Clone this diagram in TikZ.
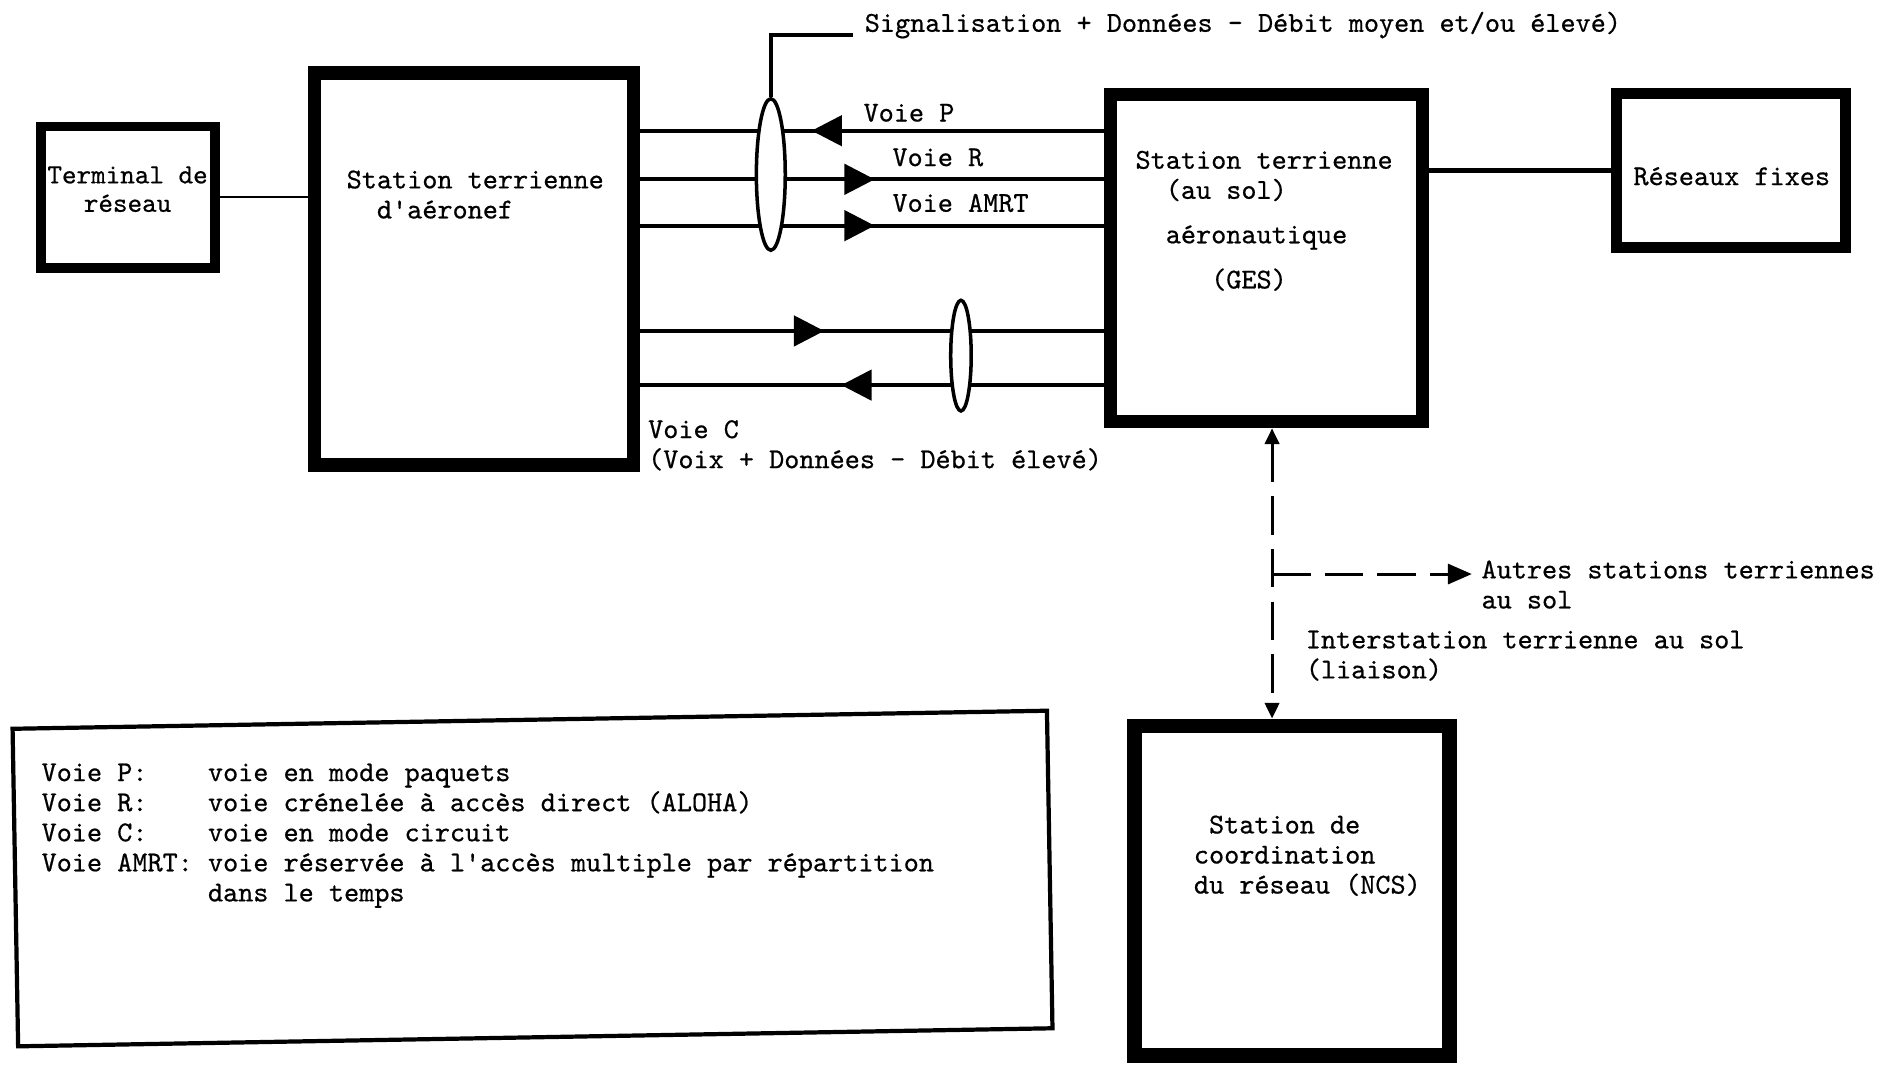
\documentclass[tikz,border=0pt]{standalone}
\usepackage{fontspec}
\setmonofont{lmmono10-regular.otf}[FakeBold=0.6]
\usetikzlibrary{arrows.meta,positioning,shapes.geometric,decorations.markings}

\begin{document}
\begin{tikzpicture}[x=0.012034cm,y=-0.012034cm,
    font=\ttfamily\fontsize{8.2}{8.56}\selectfont,
    box/.style={draw,rectangle,inner sep=0pt},
    txt/.style={inner sep=0pt,anchor=base west,align=left},
    chan/.style={line width=1.1pt},
    midarrow/.style={postaction={decorate,decoration={markings,
        mark=at position #1 with {\arrow{Triangle[length=8.6pt,width=8.6pt]}}}}},
    bundle/.style={draw,ellipse,fill=white,line width=1pt,inner sep=0pt},
    link/.style={line width=0.85pt,dash pattern=on 11pt off 4pt}]
  \useasboundingbox (0,0) rectangle (1568,885);

  % boxes
  \node[box,line width=2.74pt,minimum width=1.739cm,minimum height=1.414cm] (term) at (106.25,163.75) {};
  \node[box,line width=3.77pt,minimum width=3.189cm,minimum height=3.923cm] (acft) at (394,223.5) {};
  \node[box,line width=3.77pt,minimum width=3.123cm,minimum height=3.273cm] (ges) at (1052.25,214.5) {};
  \node[box,line width=3.1pt,minimum width=2.286cm,minimum height=1.534cm] (fixe) at (1438.5,141.75) {};
  \node[box,line width=4.1pt,minimum width=3.153cm,minimum height=3.297cm] (ncs) at (1073.5,740) {};
  \node[box,line width=1.2pt,minimum width=10.349cm,minimum height=3.177cm,rotate=1] (legende) at (442.5,730) {};

  % box texts (base = last line)
  \node[txt,align=center,anchor=base,font=\ttfamily\fontsize{7.9}{8.1}\selectfont] (termtxt) at (106,176) {Terminal de\\réseau};
  \node[txt] (acfttxt) at (287.5,181.5) {Station terrienne\\~~d\textquotesingle aéronef};
  \node[txt] (gestxt) at (943,239.7) {Station terrienne\\~~(au sol)\\[4.1pt]~~aéronautique\\[4.3pt]~~~~~(GES)};
  \node[txt,anchor=base] (fixetxt) at (1439,153.8) {Réseaux fixes};
  \node[txt] (ncstxt) at (991.5,742.5) {~Station de\\coordination\\du réseau (NCS)};

  % simple links
  \draw[line width=0.7pt] (term.east) -- (term.east -| acft.west);
  \draw[line width=1.3pt] (fixe.west) -- (fixe.west -| ges.east);

  % channels
  \draw[chan,midarrow=0.63] (ges.west |- 0,108.6) -- (acft.east |- 0,108.6);
  \draw[chan,midarrow=0.506] (acft.east |- 0,149) -- (ges.west |- 0,149);
  \draw[chan,midarrow=0.506] (acft.east |- 0,187.5) -- (ges.west |- 0,187.5);
  \draw[chan,midarrow=0.397] (acft.east |- 0,275) -- (ges.west |- 0,275);
  \draw[chan,midarrow=0.566] (ges.west |- 0,320) -- (acft.east |- 0,320);

  \node[bundle,minimum width=0.289cm,minimum height=1.516cm] (bund1) at (640.5,145) {};
  \node[bundle,minimum width=0.205cm,minimum height=1.107cm] (bund2) at (798.5,295.5) {};
  \coordinate (sigend) at (709,29);
  \draw[line width=1pt] (bund1.north) |- (sigend);

  \node[txt] (sig) at (718,26.4) {Signalisation + Données - Débit moyen et/ou élevé)};
  \node[txt] (vp) at (717,101) {Voie P};
  \node[txt] (vr) at (741,138) {Voie R};
  \node[txt] (vamrt) at (741,176) {Voie AMRT};
  \node[txt] (vc) at (538,389) {Voie C\\(Voix + Données - Débit élevé)};

  % ground links
  \coordinate (tap) at (1057,477);
  \coordinate (autres) at (1223,477);
  \draw[link,{Triangle[length=4.5pt,width=4.1pt]}-{Triangle[length=4.5pt,width=4.1pt]}] (ges.south -| tap) -- (ncs.north -| tap);
  \draw[link,-{Triangle[length=6.8pt,width=5.7pt]}] (tap) -- (autres);
  \node[txt] (autrestxt) at (1230.5,505.6) {Autres stations terriennes\\au sol};
  \node[txt] (intertxt) at (1084.5,563.7) {Interstation terrienne au sol\\(liaison)};

  % legend
  \node[txt] (legtxt) at (34,749) {Voie P:~~~~voie en mode paquets\\
    Voie R:~~~~voie crénelée à accès direct (ALOHA)\\
    Voie C:~~~~voie en mode circuit\\
    Voie AMRT:~voie réservée à l\textquotesingle accès multiple par répartition\\
    ~~~~~~~~~~~dans le temps};
\end{tikzpicture}
\end{document}
